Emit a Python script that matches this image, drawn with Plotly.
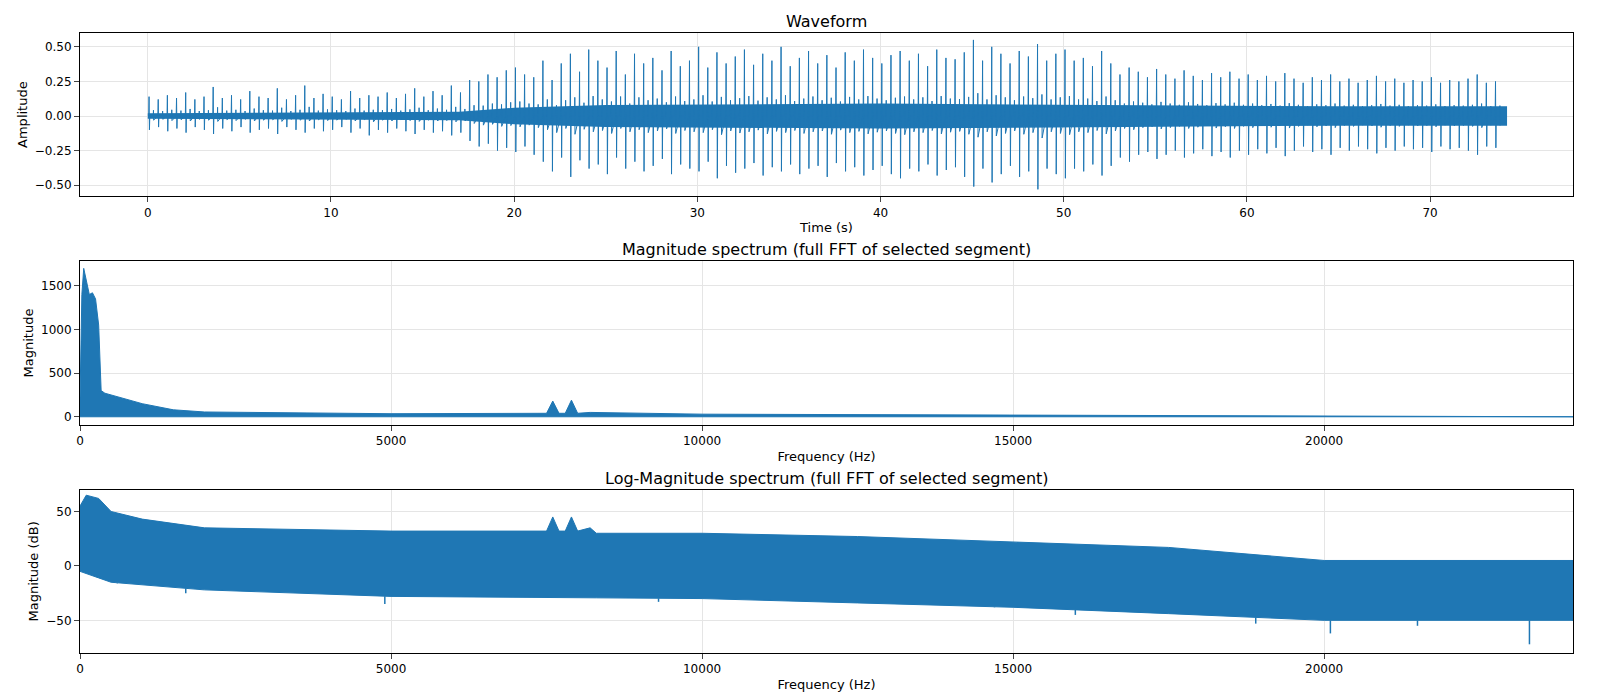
import numpy as np
import plotly.graph_objects as go
from plotly.subplots import make_subplots

# waveform beat peaks, one beat every 0.5 s starting at t=0
beat_step = 0.5
beat_pos = [.14,.12,.15,.13,.17,.12,.14,.21,.13,.15,.12,.18,.14,.13,.20,.12,.15,.22,.13,.16,
            .14,.12,.18,.13,.15,.14,.17,.13,.16,.20,.14,.18,.15,.22,.17,.26,.25,.30,.28,.33,
            .35,.30,.28,.40,.26,.38,.45,.32,.48,.40,.35,.47,.30,.45,.38,.42,.33,.47,.36,.40,
            .50,.35,.46,.38,.43,.48,.37,.45,.40,.50,.36,.42,.47,.38,.44,.35,.46,.40,.48,.42,
            .38,.44,.47,.40,.45,.36,.48,.42,.41,.46,.55,.40,.50,.45,.38,.47,.43,.52,.40,.45,
            .48,.40,.42,.36,.47,.38,.30,.35,.32,.28,.34,.30,.27,.33,.29,.26,.31,.28,.32,.27,
            .30,.26,.29,.25,.31,.27,.24,.28,.26,.30,.25,.27,.24,.26,.29,.25,.27,.24,.26,.25,
            .28,.24,.26,.25,.27,.30,.24,.25]
beat_neg = [-.10,-.08,-.11,-.09,-.12,-.08,-.10,-.13,-.09,-.11,-.08,-.12,-.10,-.09,-.13,-.08,-.10,-.12,-.09,-.11,
            -.10,-.08,-.12,-.09,-.14,-.10,-.12,-.09,-.11,-.13,-.10,-.12,-.11,-.14,-.12,-.18,-.22,-.20,-.25,-.23,
            -.26,-.22,-.28,-.33,-.40,-.30,-.44,-.32,-.38,-.35,-.42,-.30,-.38,-.33,-.40,-.36,-.31,-.42,-.35,-.38,
            -.40,-.33,-.45,-.36,-.41,-.38,-.34,-.43,-.37,-.40,-.35,-.42,-.38,-.36,-.44,-.34,-.40,-.37,-.43,-.39,
            -.36,-.42,-.45,-.38,-.40,-.35,-.43,-.39,-.37,-.44,-.51,-.38,-.48,-.42,-.36,-.44,-.40,-.53,-.38,-.42,
            -.45,-.38,-.40,-.35,-.43,-.36,-.30,-.33,-.28,-.26,-.31,-.28,-.25,-.30,-.27,-.24,-.29,-.26,-.30,-.25,
            -.28,-.24,-.27,-.23,-.29,-.25,-.22,-.26,-.24,-.28,-.23,-.25,-.22,-.24,-.27,-.23,-.25,-.22,-.24,-.23,
            -.26,-.22,-.24,-.23,-.25,-.28,-.22,-.23]
noise_t = [0, 10, 17, 20, 25, 40, 55, 65, 74.2]
noise_hi = [0.02, 0.025, 0.03, 0.06, 0.08, 0.09, 0.08, 0.07, 0.07]
noise_lo = [-0.02, -0.025, -0.03, -0.06, -0.08, -0.09, -0.08, -0.07, -0.07]

# magnitude spectrum envelope
mag_f = [0, 30, 60, 100, 150, 200, 250, 300, 340, 400, 500, 1000, 1500, 2000, 5000, 7500, 7600, 7700,
         7800, 7900, 8000, 8200, 10000, 15000, 17500, 20000, 24000]
mag_hi = [200, 1400, 1700, 1550, 1400, 1420, 1350, 1050, 300, 270, 250, 150, 80, 55, 35, 40, 180, 40,
          40, 190, 40, 50, 30, 20, 10, 5, 3]

# log-magnitude envelope (dB)
db_f = [0, 100, 300, 500, 1000, 2000, 5000, 7500, 7600, 7700, 7800, 7900, 8000, 8200, 8300, 10000,
        12500, 15000, 17500, 20000, 24000]
db_hi = [55, 65, 62, 50, 43, 35, 32, 32, 45, 32, 32, 45, 32, 35, 30, 30, 27, 22, 17, 5, 5]
db_lo_f = [0, 500, 2000, 5000, 10000, 15000, 18000, 20000, 24000]
db_lo = [-5, -15, -22, -28, -30, -38, -45, -50, -50]
dip_f = [600, 1700, 4900, 9300, 14700, 16000, 18900, 20100, 21500, 23300]
dip_db = [-16, -25, -35, -33, -38, -45, -53, -62, -55, -72]

C = "#1f77b4"
fig = make_subplots(rows=3, cols=1, vertical_spacing=0.105,
                    subplot_titles=["Waveform", "Magnitude spectrum (full FFT of selected segment)",
                                    "Log-Magnitude spectrum (full FFT of selected segment)"])

# waveform: noise band + beat spikes
fig.add_trace(go.Scatter(x=noise_t + noise_t[::-1], y=noise_hi + noise_lo[::-1], fill="toself",
                         fillcolor=C, line=dict(width=0), mode="lines"), 1, 1)
wx, wy = [], []
for i, (p, n) in enumerate(zip(beat_pos, beat_neg)):
    t = i * beat_step + 0.05
    wx += [t, t + 0.02, t + 0.04, t + 0.06]
    wy += [0, p, n, 0]
    wx += [t + 0.25, t + 0.26, t + 0.27]
    wy += [0, p * 0.3, n * 0.3]
fig.add_trace(go.Scatter(x=wx, y=wy, mode="lines", line=dict(color=C, width=1)), 1, 1)

# magnitude
fig.add_trace(go.Scatter(x=mag_f + [24000, 0], y=mag_hi + [0, 0], fill="toself", fillcolor=C,
                         line=dict(color=C, width=1), mode="lines"), 2, 1)

# log magnitude
lo_interp = list(np.interp(db_f, db_lo_f, db_lo))
fig.add_trace(go.Scatter(x=db_f + db_f[::-1], y=db_hi + lo_interp[::-1], fill="toself", fillcolor=C,
                         line=dict(color=C, width=1), mode="lines"), 3, 1)
dx, dy = [], []
for f, d in zip(dip_f, dip_db):
    base = float(np.interp(f, db_lo_f, db_lo))
    dx += [f, f, None]
    dy += [base, d, None]
fig.add_trace(go.Scatter(x=dx, y=dy, mode="lines", line=dict(color=C, width=1.5)), 3, 1)

ax = dict(showline=True, linecolor="black", mirror=True, ticks="outside", gridcolor="#e5e5e5",
          zeroline=False, tickfont=dict(size=12, color="black"), title_font=dict(size=13, color="black"),
          title_standoff=4)
fig.update_xaxes(**ax)
fig.update_yaxes(**ax)
fig.update_xaxes(range=[-3.7, 77.8], dtick=10, title_text="Time (s)", row=1, col=1)
fig.update_yaxes(range=[-0.58, 0.60], tickvals=[-0.5, -0.25, 0, 0.25, 0.5], tickformat=".2f",
                 title_text="Amplitude", row=1, col=1)
fig.update_xaxes(range=[0, 24000], dtick=5000, tickformat="d", title_text="Frequency (Hz)", row=2, col=1)
fig.update_yaxes(range=[-90, 1780], dtick=500, title_text="Magnitude", row=2, col=1)
fig.update_xaxes(range=[0, 24000], dtick=5000, tickformat="d", title_text="Frequency (Hz)", row=3, col=1)
fig.update_yaxes(range=[-80, 70], dtick=50, title_text="Magnitude (dB)", row=3, col=1)
fig.update_annotations(font=dict(size=16, color="black"))
fig.update_layout(width=1600, height=700, showlegend=False, plot_bgcolor="white", paper_bgcolor="white",
                  font=dict(family="DejaVu Sans"), margin=dict(l=72, r=35, t=25, b=55))
fig.write_html("out.html")
